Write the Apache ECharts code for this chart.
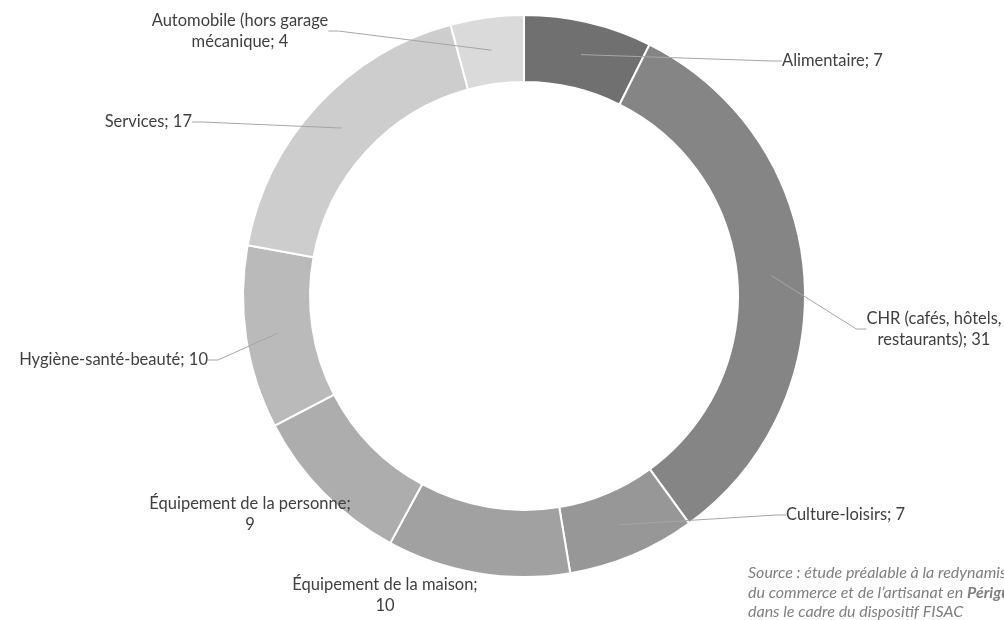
<!DOCTYPE html>
<html><head><meta charset="utf-8">
<script src="https://cdn.jsdelivr.net/npm/echarts@6/dist/echarts.min.js"></script>
<style>html,body{margin:0;padding:0;background:#fff}#c{width:1004px;height:620px}</style>
</head><body><div id="c"></div>
<script>
const categories = ["Alimentaire", "CHR (cafés, hôtels,\nrestaurants)", "Culture-loisirs", "Équipement de la maison;\n", "Équipement de la personne;\n", "Hygiène-santé-beauté", "Services", "Automobile (hors garage\nmécanique"];
const values = [7, 31, 7, 10, 9, 10, 17, 4];
const colors = ["#707070", "#858585", "#979797", "#a1a1a1", "#adadad", "#bababa", "#cdcdcd", "#dadada"];
// label text anchors (styling)
const labelPos = [
  {x: 782, y: 61, align: "left", line: true},
  {x: 934, y: 329, align: "center", line: true},
  {x: 786, y: 515, align: "left", line: true},
  {x: 385, y: 595, align: "center", line: false},
  {x: 250, y: 514, align: "center", line: false},
  {x: 208, y: 360, align: "right", line: true},
  {x: 192, y: 122, align: "right", line: true},
  {x: 240, y: 31, align: "center", line: true}
];
const FONT = "Lato";
function labelText(i) {
  const c = categories[i];
  if (c.endsWith("\n")) return c + values[i];
  return c + "; " + values[i];
}
const chart = echarts.init(document.getElementById("c"), null, {renderer: "canvas"});
const ringData = values.map((v, i) => ({name: categories[i], value: v, itemStyle: {color: colors[i]}}));
const labelData = values.map((v, i) => ({name: categories[i], value: v,
  labelLine: {show: labelPos[i].line}}));
chart.setOption({
  animation: false,
  series: [
    {
      type: "pie", center: [524, 296], radius: [214, 281], startAngle: 90, clockwise: true,
      silent: true, label: {show: false}, labelLine: {show: false},
      itemStyle: {borderColor: "#fff", borderWidth: 2},
      data: ringData, z: 1
    },
    {
      type: "pie", center: [524, 296], radius: [0, 248], startAngle: 90, clockwise: true,
      silent: true, z: 5,
      itemStyle: {color: "rgba(0,0,0,0)", borderWidth: 0},
      label: {show: true, position: "outside", formatter: p => labelText(p.dataIndex),
        fontFamily: FONT, fontSize: 16.5, color: "#3f3f3f", lineHeight: 21},
      labelLine: {show: true, length: 10, length2: 10, lineStyle: {color: "#a6a6a6", width: 1}},
      labelLayout: p => {
        const lp = labelPos[p.dataIndex];
        return {x: lp.x, y: lp.y, align: lp.align, verticalAlign: "middle", hideOverlap: false};
      },
      data: labelData
    }
  ],
  graphic: [{
    type: "text", left: 748, top: 565,
    style: {
      text: "{i|Source : étude préalable à la redynamisation}\n{i|du commerce et de l’artisanat en }{b|Périgueux}\n{i|dans le cadre du dispositif FISAC}",
      rich: {
        i: {fontFamily: FONT, fontStyle: "italic", fontSize: 16, fill: "#7f7f7f", lineHeight: 19.5},
        b: {fontFamily: FONT, fontStyle: "italic", fontWeight: "bold", fontSize: 16, fill: "#7f7f7f", lineHeight: 19.5}
      }
    }
  }]
});
</script></body></html>
